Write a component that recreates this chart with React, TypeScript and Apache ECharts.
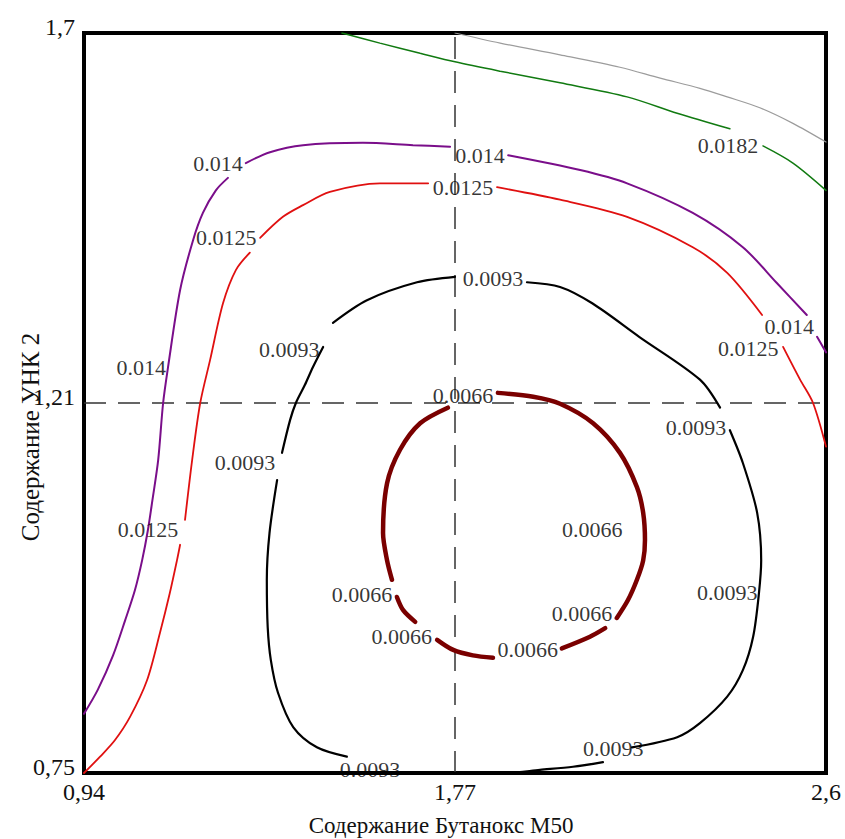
import React, { useEffect, useRef } from "react";
import * as echarts from "echarts";

// ---- axes ----
const xTickValues = [0.94, 1.77, 2.6];
const xTickLabels = ["0,94", "1,77", "2,6"];
const yTickValues = [0.75, 1.225, 1.7];
const yTickLabels = ["0,75", "1,21", "1,7"];
const crossX = 1.77;
const crossY = 1.225;
const xTitle = "Содержание Бутанокс М50";
const yTitle = "Содержание УНК 2";

// ---- contour levels ----
const level1 = 0.0066;
const level2 = 0.0093;
const level3 = 0.0125;
const level4 = 0.014;
const level5 = 0.0182;

// unlabeled top contour
const contourGraySegments = [
  [[1.77, 1.7], [1.871, 1.687], [2.005, 1.672], [2.139, 1.656], [2.229, 1.642], [2.318, 1.629], [2.379, 1.618], [2.452, 1.604], [2.526, 1.584], [2.6, 1.56]],
];

const contour0182Segments = [
  [[1.517, 1.7], [1.602, 1.687], [1.692, 1.674], [1.77, 1.663], [1.871, 1.651], [2.005, 1.636], [2.155, 1.618], [2.267, 1.597], [2.385, 1.577]],
  [[2.459, 1.555], [2.526, 1.533], [2.6, 1.498]],
];
const contour0182Labels = [[2.381, 1.556]];

const contour014Segments = [
  [[0.94, 0.826], [0.971, 0.857], [1.005, 0.901], [1.032, 0.946], [1.054, 0.985], [1.07, 1.023], [1.083, 1.062], [1.093, 1.1], [1.106, 1.152], [1.117, 1.225], [1.128, 1.271], [1.155, 1.37], [1.184, 1.434], [1.206, 1.469], [1.235, 1.498], [1.262, 1.514]],
  [[1.302, 1.533], [1.356, 1.547], [1.43, 1.556], [1.564, 1.559], [1.676, 1.556], [1.759, 1.554]],
  [[1.889, 1.543], [2.05, 1.524], [2.155, 1.507], [2.302, 1.469], [2.414, 1.425], [2.49, 1.379], [2.557, 1.338]],
  [[2.58, 1.31], [2.6, 1.29]],
];
const contour014Labels = [[1.068, 1.27], [1.24, 1.533], [1.826, 1.543], [2.518, 1.323]];

const contour0125Segments = [
  [[0.94, 0.75], [0.976, 0.771], [1.009, 0.792], [1.043, 0.822], [1.081, 0.869], [1.11, 0.93], [1.132, 0.981], [1.148, 1.023], [1.155, 1.043]],
  [[1.166, 1.075], [1.182, 1.152], [1.2, 1.225], [1.222, 1.28], [1.251, 1.353], [1.28, 1.396], [1.311, 1.418]],
  [[1.334, 1.437], [1.385, 1.464], [1.43, 1.479], [1.49, 1.496], [1.602, 1.507], [1.71, 1.507]],
  [[1.864, 1.502], [2.005, 1.486], [2.155, 1.464], [2.302, 1.425], [2.379, 1.392], [2.457, 1.338]],
  [[2.504, 1.297], [2.542, 1.255], [2.571, 1.225], [2.6, 1.169]],
];
const contour0125Labels = [[1.083, 1.062], [1.258, 1.437], [1.788, 1.502], [2.426, 1.295]];

const contour0093Segments = [
  [[1.528, 0.771], [1.461, 0.783], [1.408, 0.809], [1.374, 0.853], [1.358, 0.895], [1.351, 0.937], [1.349, 0.998], [1.355, 1.058], [1.372, 1.126]],
  [[1.383, 1.161], [1.401, 1.203], [1.414, 1.225], [1.434, 1.248], [1.452, 1.271], [1.475, 1.297]],
  [[1.497, 1.328], [1.573, 1.357], [1.685, 1.38], [1.77, 1.387]],
  [[1.931, 1.38], [2.005, 1.374], [2.077, 1.353], [2.182, 1.31], [2.318, 1.255], [2.363, 1.219]],
  [[2.385, 1.19], [2.414, 1.148], [2.446, 1.084], [2.455, 1.023], [2.45, 0.981], [2.437, 0.925], [2.414, 0.882], [2.379, 0.848], [2.318, 0.814], [2.267, 0.796], [2.166, 0.783]],
  [[2.101, 0.764], [2.034, 0.758], [1.96, 0.754], [1.886, 0.75], [1.663, 0.75]],
];
const contour0093Labels = [[1.58, 0.754], [2.124, 0.782], [2.379, 0.982], [2.309, 1.194], [1.855, 1.385], [1.399, 1.294], [1.3, 1.148]];

const contour0066Segments = [
  [[1.866, 1.238], [1.945, 1.233], [2.005, 1.224], [2.079, 1.199], [2.139, 1.161], [2.177, 1.117], [2.191, 1.084], [2.195, 1.049], [2.191, 1.023], [2.177, 0.998], [2.157, 0.972], [2.132, 0.949]],
  [[2.106, 0.936], [2.072, 0.925], [2.009, 0.91]],
  [[1.855, 0.898], [1.81, 0.901], [1.766, 0.908], [1.73, 0.921]],
  [[1.681, 0.944], [1.654, 0.959], [1.64, 0.976]],
  [[1.629, 0.998], [1.618, 1.023], [1.609, 1.058], [1.618, 1.122], [1.647, 1.165], [1.692, 1.199], [1.754, 1.219]],
];
const contour0066Labels = [[1.788, 1.235], [2.077, 1.062], [2.054, 0.955], [1.933, 0.908], [1.651, 0.925], [1.562, 0.979]];

const FONT = "'Liberation Serif', 'Times New Roman', serif";

function tickFormatter(values: number[], labels: string[]) {
  return (v: number) => {
    const i = values.findIndex((t) => Math.abs(t - v) < 1e-6);
    return i >= 0 ? labels[i] : "";
  };
}

export default function App() {
  const ref = useRef<HTMLDivElement>(null);

  useEffect(() => {
    if (!ref.current) return;
    const chart = echarts.init(ref.current, null, { renderer: "svg" });

    const contours = [
      { level: null as number | null, segments: contourGraySegments, labels: [] as number[][], color: "#9c9c9c", width: 1.2 },
      { level: level5, segments: contour0182Segments, labels: contour0182Labels, color: "#117a11", width: 1.5 },
      { level: level4, segments: contour014Segments, labels: contour014Labels, color: "#7a0e8a", width: 2 },
      { level: level3, segments: contour0125Segments, labels: contour0125Labels, color: "#e01010", width: 1.8 },
      { level: level2, segments: contour0093Segments, labels: contour0093Labels, color: "#000000", width: 2.2 },
      { level: level1, segments: contour0066Segments, labels: contour0066Labels, color: "#7a0000", width: 4.5 },
    ];

    const series: any[] = [];
    const dash = { color: "#333", width: 1.5, type: [22, 12] as any };
    series.push({
      type: "line",
      data: [[crossX, yTickValues[0]], [crossX, yTickValues[2]]],
      showSymbol: false,
      lineStyle: dash,
      silent: true,
      z: 2,
    });
    series.push({
      type: "line",
      data: [[xTickValues[0], crossY], [xTickValues[2], crossY]],
      showSymbol: false,
      lineStyle: dash,
      silent: true,
      z: 2,
    });

    contours.forEach((c) => {
      c.segments.forEach((seg) => {
        series.push({
          type: "line",
          data: seg,
          showSymbol: false,
          smooth: 0.3,
          lineStyle: { color: c.color, width: c.width, cap: "round" },
          silent: true,
          z: 3,
        });
      });
      if (c.level !== null && c.labels.length) {
        const text = String(c.level);
        series.push({
          type: "scatter",
          data: c.labels,
          symbol: "circle",
          symbolSize: 1,
          itemStyle: { color: "rgba(0,0,0,0)" },
          label: {
            show: true,
            position: "inside",
            formatter: () => text,
            fontFamily: FONT,
            fontSize: 22,
            color: "#000",
          },
          silent: true,
          z: 5,
        });
      }
    });

    chart.setOption({
      animation: false,
      backgroundColor: "#fff",
      grid: {
        left: 84,
        right: 19,
        top: 33,
        bottom: 66,
        show: true,
        borderColor: "#000",
        borderWidth: 4,
        backgroundColor: "#fff",
      },
      xAxis: {
        type: "value",
        min: xTickValues[0],
        max: xTickValues[2],
        axisLine: { show: false },
        axisTick: { show: false },
        splitLine: { show: false },
        axisLabel: {
          customValues: xTickValues,
          formatter: tickFormatter(xTickValues, xTickLabels),
          fontFamily: FONT,
          fontSize: 24,
          color: "#111",
          margin: 7,
        },
      },
      yAxis: {
        type: "value",
        min: yTickValues[0],
        max: yTickValues[2],
        axisLine: { show: false },
        axisTick: { show: false },
        splitLine: { show: false },
        axisLabel: {
          customValues: yTickValues,
          formatter: tickFormatter(yTickValues, yTickLabels),
          fontFamily: FONT,
          fontSize: 24,
          color: "#111",
          margin: 9,
          verticalAlign: "bottom",
          lineHeight: 12,
        },
      },
      graphic: [
        {
          type: "text",
          x: 441,
          y: 825,
          style: { text: xTitle, font: `23px ${FONT}`, fill: "#111", textAlign: "center", textVerticalAlign: "middle" },
        },
        {
          type: "text",
          x: 30,
          y: 437,
          rotation: Math.PI / 2,
          style: { text: yTitle, font: `25px ${FONT}`, fill: "#111", textAlign: "center", textVerticalAlign: "middle" },
        },
      ],
      series,
    });

    return () => chart.dispose();
  }, []);

  return (
    <div
      ref={ref}
      style={{ position: "fixed", left: 0, top: 0, width: 845, height: 839, background: "#fff" }}
    />
  );
}
